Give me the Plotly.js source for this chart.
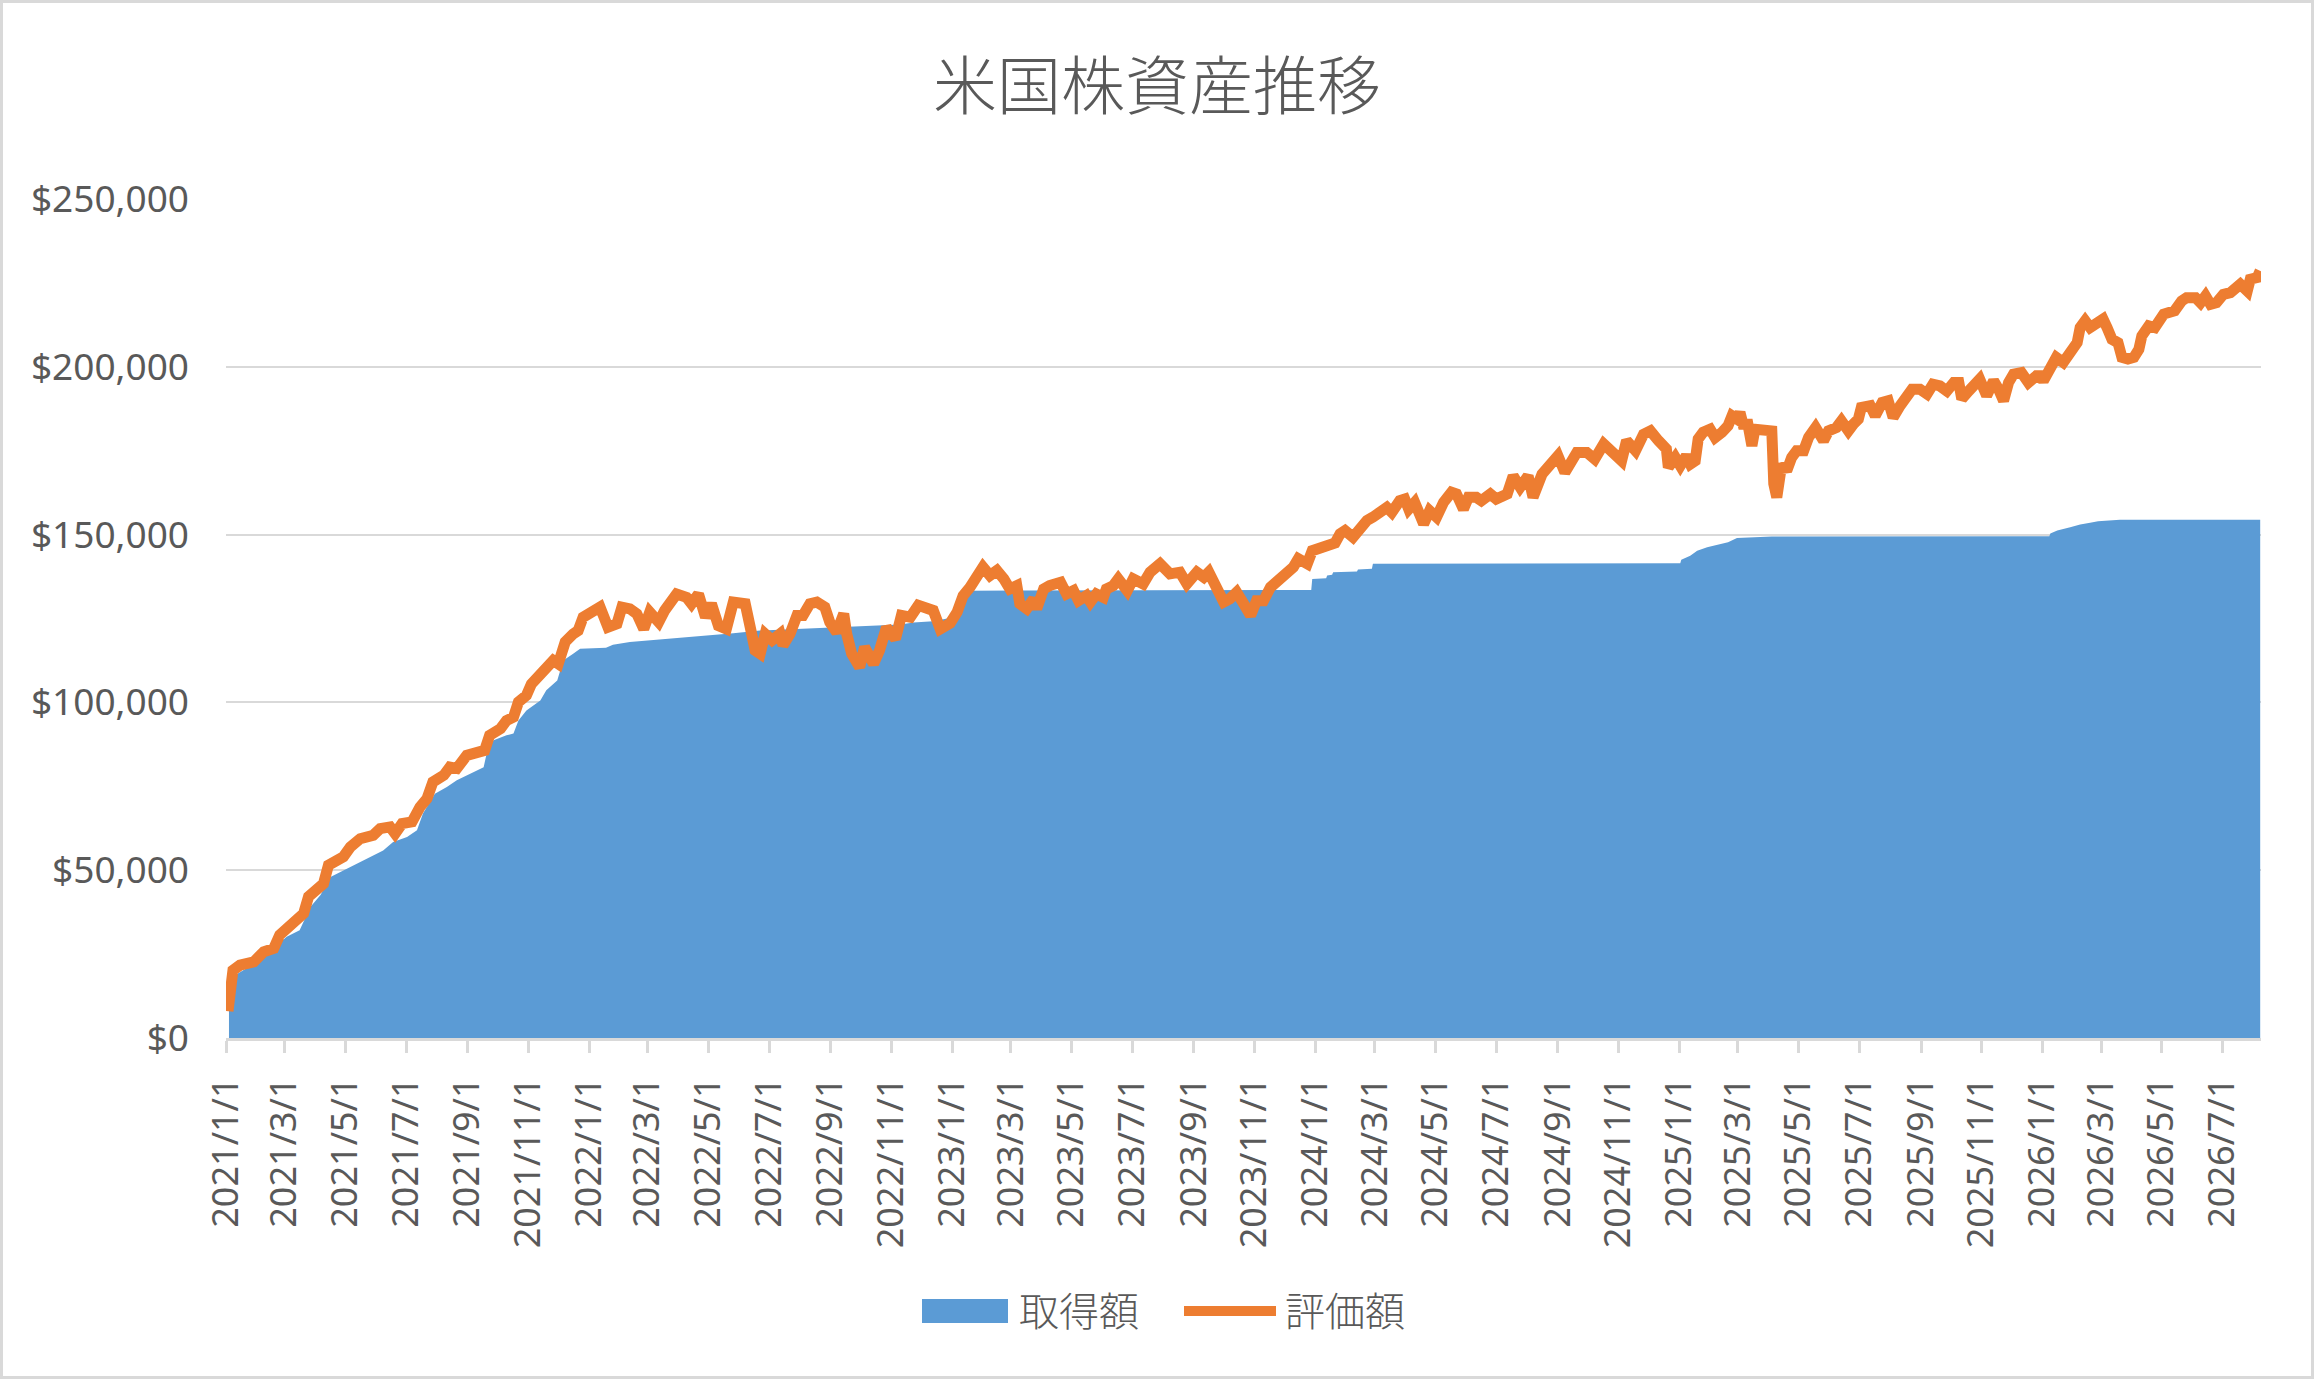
<!DOCTYPE html>
<html><head><meta charset="utf-8">
<script src="https://cdn.plot.ly/plotly-3.0.1.min.js"></script>
<style>
html,body{margin:0;padding:0;background:#fff;}
#chart{width:2308px;height:1373px;border:3px solid #D9D9D9;}
</style>
</head><body><div id="chart"></div>
<script>
const chartTitle = '米国株資産推移';
const seriesNames = ['取得額', '評価額'];
const startDate = '2021-01-01';
const endDay = 2045;

// 評価額 (market value): day offset from 2021-01-01, USD
const valueDays = [2,4,7,14,28,38,48,54,61,68,78,83,90,98,103,111,118,125,135,148,155,165,170,177,187,195,202,208,219,225,232,242,252,260,265,276,282,289,294,302,307,316,324,329,334,341,349,354,359,366,376,
384,393,398,406,413,420,426,435,441,448,453,463,468,475,482,488,495,503,510,522,527,532,537,542,549,557,560,567,574,580,587,594,602,607,614,621,624,629,637,642,651,657,664,673,679,688,696,704,711,718,728,
735,741,748,755,761,768,775,782,788,795,798,805,812,815,822,828,839,845,852,857,865,869,875,882,885,892,897,906,912,922,929,939,949,959,966,976,983,988,996,1003,1009,1016,1023,1030,1036,1043,1050,1058,1066,1073,1078,1087,1092,1100,
1107,1115,1120,1125,1133,1140,1147,1153,1160,1167,1172,1180,1185,1189,1195,1200,1204,1210,1217,1224,1232,1237,1244,1249,1257,1262,1271,1277,1288,1294,1301,1309,1314,1323,1331,1339,1346,1353,1358,1368,1376,1385,1393,1403,1408,1417,1425,1432,1440,1448,1450,1457,1462,1468,1472,
1477,1480,1485,1492,1497,1504,1510,1514,1519,1522,1525,1530,1534,1537,1544,1549,1554,1556,1559,1564,1569,1574,1579,1586,1591,1598,1606,1611,1619,1624,1631,1636,1641,1644,1653,1658,1665,1671,1676,1683,1688,1695,1703,1710,1716,1723,1730,1737,1742,1745,1752,1758,1763,1770,1777,1782,1787,1792,1797,1805,1812,1820,
1824,1827,1834,1840,1847,1854,1861,1864,1869,1874,1881,1887,1891,1896,1902,1906,1912,1918,1923,1926,1933,1939,1948,1954,1959,1966,1971,1980,1985,1990,1995,2001,2008,2015,2021,2025,2032,2035,2042,2045];
const valueUSD = [8000,16000,20200,21700,22700,25700,26700,30700,32600,34600,37100,42100,44500,46000,51500,52500,54000,56900,59400,60400,62400,62900,60900,63900,64400,68800,71300,76300,78300,80700,80300,84200,84700,85700,90200,92200,94600,95600,100100,102100,105500,108500,110500,112500,111500,118000,120400,121400,125400,126400,128400,
122400,123400,128400,127900,126400,121900,126900,123900,127400,129900,132300,131300,129400,132300,125400,129400,122900,121900,129900,129400,121400,115500,114500,120400,118500,120400,117000,120400,125900,125900,129400,129900,128400,123900,120900,126400,120400,114500,110500,116500,111500,115500,122400,118900,125900,125400,128900,128400,127400,121900,123600,
126900,131800,134300,137300,140300,137800,139300,136800,133800,134800,129400,127900,130800,127900,133800,134800,135800,132300,133300,130300,131800,129900,132300,131300,133800,134800,136800,133300,136800,135300,138800,141300,138300,138800,135300,138800,137300,138800,134300,129900,130800,132800,129400,125900,130300,130300,134300,136300,138300,140300,142800,141300,145200,146000,
146700,147500,150200,151200,149200,152200,154200,155200,157100,158100,156600,160100,160600,157600,159600,154700,153200,157100,155200,159600,162600,162100,157600,161100,161100,160100,162100,160600,162100,167500,164100,167500,161100,168000,171000,173500,168500,172500,174500,174500,172500,177000,174500,172000,178000,175000,179900,180900,178000,175500,170000,173000,170500,173500,171000,
172000,178500,180500,181400,178900,180500,182400,185400,184400,186400,182900,182900,176500,181400,180900,180900,180900,165100,161100,171000,169000,173000,175000,175000,179000,181900,178000,180900,181900,183900,180900,182900,184400,187900,188400,185400,189400,189900,184900,188400,190900,193300,193300,191900,194800,194300,192800,195300,195300,190400,192800,195300,196300,191400,195800,193300,189900,195300,197800,198300,195300,197300,
197300,195800,200300,202800,201300,204300,207200,211700,213700,211700,213200,214200,211700,208200,207200,202800,202300,202800,205200,209200,212200,211700,215700,216200,216700,219600,220600,220600,219100,221100,218600,219100,221600,222100,223100,224600,222600,226100,226600,228600];

// 取得額 (acquisition cost): day offset from 2021-01-01, USD
const costDays = [3,7,34,61,74,85,95,105,115,128,141,158,168,182,192,198,210,222,232,245,259,262,269,282,289,294,302,316,322,333,339,349,356,382,389,406,423,450,480,510,537,584,624,634,678,691,711,725,738,748,999,1091,1092,1106,1107,1112,1113,1137,1138,1152,1153,1462,1463,1472,1479,1489,1510,1519,1554,1833,1834,1841,1854,1864,1874,1882,1904,2045];
const costUSD = [17300,18300,23200,30200,32100,39100,42600,48000,49500,51500,53500,55900,58400,59900,61900,66900,72800,74800,76800,78800,80700,84700,88700,90200,90700,94600,97600,100600,103600,106500,112500,114500,116000,116300,117200,118000,118400,119100,119900,120600,121400,122000,122600,122800,123200,123800,124200,125000,130300,133300,133500,133500,136800,137000,137800,138000,138800,139000,139600,139800,141300,141500,142500,143700,145200,146200,147700,149000,149400,149500,150300,151200,152200,153000,153500,154000,154400,154400];

const yTickValues = [0, 50000, 100000, 150000, 200000, 250000];
const yTickLabels = yTickValues.map(v => '$' + v.toLocaleString('en-US'));

function dayToDate(d) {
  const t = Date.parse(startDate + 'T00:00:00Z') + d * 86400000;
  return new Date(t).toISOString().slice(0, 19).replace('T', ' ');
}

const textColor = '#595959';
const gridColor = '#D9D9D9';
const blue = '#5B9BD5';
const orange = '#ED7D31';
const latinFont = '"Noto Sans", "Noto Sans CJK JP", sans-serif';
const cjkFont = '"Noto Sans CJK JP", "Noto Sans", sans-serif';

// plot area in layout pixels (for placing the legend below it)
const M = {l: 223, r: 50, t: 196, b: 338};
const W = 2308, H = 1373;
const PW = W - M.l - M.r, PH = H - M.t - M.b;
const px = x => (x - M.l) / PW;
const py = y => (H - M.b - y) / PH;

const traces = [
  {
    type: 'scatter', mode: 'lines', name: seriesNames[0],
    x: costDays.map(dayToDate), y: costUSD,
    fill: 'tozeroy', fillcolor: blue,
    line: {color: blue, width: 0, shape: 'linear'},
    hoverinfo: 'skip', showlegend: false
  },
  {
    type: 'scatter', mode: 'lines', name: seriesNames[1],
    x: valueDays.map(dayToDate), y: valueUSD,
    line: {color: orange, width: 11, shape: 'linear'},
    hoverinfo: 'skip', showlegend: false
  }
];

const layout = {
  width: W, height: H,
  margin: {l: M.l, r: M.r, t: M.t, b: M.b, pad: 0},
  paper_bgcolor: '#FFFFFF', plot_bgcolor: '#FFFFFF',
  font: {family: latinFont, color: textColor, size: 37},
  title: {
    text: chartTitle,
    font: {family: cjkFont, size: 64, color: textColor, weight: 300},
    x: 0.5, xref: 'container', xanchor: 'center',
    y: 1 - 84 / H, yref: 'container', yanchor: 'middle'
  },
  xaxis: {
    type: 'date',
    range: [dayToDate(0), dayToDate(endDay + 0.8)],
    tick0: startDate, dtick: 'M2',
    tickformat: '%Y/%-m/%-d',
    tickangle: -90,
    ticks: 'outside', ticklen: 12, tickwidth: 3, tickcolor: gridColor,
    showline: true, linecolor: gridColor, linewidth: 3,
    showgrid: false, zeroline: false,
    tickfont: {family: latinFont, size: 36, color: textColor},
    ticklabelstandoff: 10,
    fixedrange: true
  },
  yaxis: {
    range: [0, 250000],
    tickmode: 'array', tickvals: yTickValues, ticktext: yTickLabels,
    showgrid: true, gridcolor: gridColor, gridwidth: 2,
    zeroline: false, showline: false, ticks: '',
    tickfont: {family: latinFont, size: 37, color: textColor},
    ticklabelstandoff: 36,
    fixedrange: true
  },
  showlegend: false,
  shapes: [
    {type: 'rect', xref: 'paper', yref: 'paper',
     x0: px(919), x1: px(1005), y0: py(1320), y1: py(1296),
     fillcolor: blue, line: {width: 0}},
    {type: 'line', xref: 'paper', yref: 'paper',
     x0: px(1181), x1: px(1273), y0: py(1308), y1: py(1308),
     line: {color: orange, width: 10}}
  ],
  annotations: [
    {xref: 'paper', yref: 'paper', x: px(1014), y: py(1306), xanchor: 'left', yanchor: 'middle',
     text: seriesNames[0], showarrow: false, font: {family: cjkFont, size: 40, color: textColor, weight: 300}},
    {xref: 'paper', yref: 'paper', x: px(1280), y: py(1306), xanchor: 'left', yanchor: 'middle',
     text: seriesNames[1], showarrow: false, font: {family: cjkFont, size: 40, color: textColor, weight: 300}}
  ],
  hovermode: false
};

Plotly.newPlot('chart', traces, layout, {staticPlot: true, displayModeBar: false});
</script>
</body></html>
